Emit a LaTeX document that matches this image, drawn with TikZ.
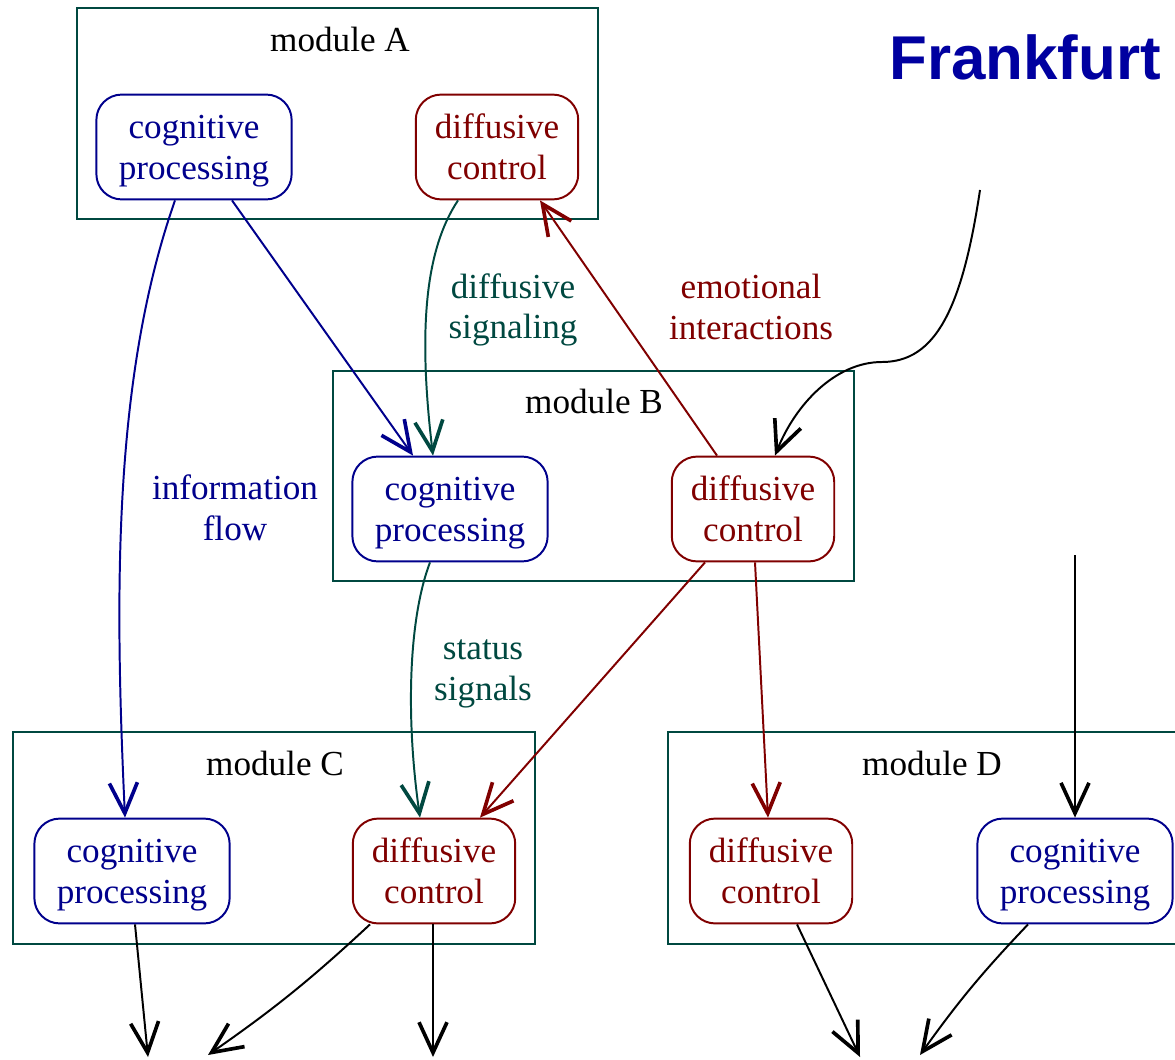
\documentclass[tikz,border=0pt]{standalone}
\usepackage{fontspec}
\setmainfont{Liberation Serif}
\newfontfamily\cityfont{Liberation Sans}
\usetikzlibrary{arrows.meta,calc}
\definecolor{cogblue}{RGB}{0,0,140}
\definecolor{diffred}{RGB}{128,0,0}
\definecolor{modteal}{RGB}{0,72,64}
\definecolor{cityblue}{RGB}{0,0,160}

\begin{document}
\begin{tikzpicture}[x=0.0125cm, y=-0.0125cm,
    font=\fontsize{12.5}{14.5}\selectfont,
    modbox/.style={draw=modteal, line width=0.8pt, inner sep=0pt},
    cogbox/.style={draw=cogblue, text=cogblue, rounded corners=9pt, line width=0.7pt,
                   align=center, inner sep=0pt, text depth=0pt,
                   minimum width=2.44cm, minimum height=1.31cm},
    diffbox/.style={cogbox, draw=diffred, text=diffred, minimum width=2.03cm},
    flow/.style={line width=0.7pt, -{Straight Barb[length=3.8mm,width=3.5mm,line width=1.3pt]}},
  ]
  \useasboundingbox (0,0) rectangle (1175,1059);

  % Module (aussen)
  \node[modbox, minimum width=6.51cm, minimum height=2.64cm] (modA) at (337.5,113.5) {};
  \node[modbox, minimum width=6.51cm, minimum height=2.62cm] (modB) at (593.5,476) {};
  \node[modbox, minimum width=6.52cm, minimum height=2.65cm] (modC) at (274,838) {};
  \node[modbox, minimum width=6.51cm, minimum height=2.65cm] (modD) at (928.5,838) {};
  \node (labA) at (340,39) {module A};
  \node (labB) at (594,401) {module B};
  \node (labC) at (275,763) {module C};
  \node (labD) at (932,763) {module D};

  % kognitive und diffusive Einheiten
  \node[cogbox]  (acog)  at (194,147)  {cognitive\\processing};
  \node[diffbox] (adiff) at (497,147)  {diffusive\\control};
  \node[cogbox]  (bcog)  at (450,509)  {cognitive\\processing};
  \node[diffbox] (bdiff) at (753,509)  {diffusive\\control};
  \node[cogbox]  (ccog)  at (132,871)  {cognitive\\processing};
  \node[diffbox] (cdiff) at (434,871)  {diffusive\\control};
  \node[diffbox] (ddiff) at (771,871)  {diffusive\\control};
  \node[cogbox]  (dcog)  at (1075,871) {cognitive\\processing};

  % Titel
  \node[font=\cityfont\bfseries\fontsize{22}{26}\selectfont, text=cityblue] (city) at (1025,57) {Frankfurt};

  % Beschriftungen der Pfeile
  \node[text=modteal, align=center] (lsig)  at (513,310) {diffusive\\signaling};
  \node[text=diffred, align=center] (lemo)  at (751,307) {emotional\\interactions};
  \node[text=cogblue, align=center] (linfo) at (235,508) {information\\flow};
  \node[text=modteal, align=center] (lstat) at (483,674) {status\\signals};

  % freie Enden
  \coordinate (inB) at (980,190);
  \coordinate (inD) at (1075,555);
  \coordinate (out1) at (148,1057);
  \coordinate (out2) at (208,1055);
  \coordinate (out3) at (433,1057);
  \coordinate (out4) at (860,1057);
  \coordinate (out5) at (920,1055);

  % Informationsfluss (blau)
  \draw[flow, cogblue] ($(acog.south)+(-19,0)$) .. controls (112,380) and (115,600) .. ($(ccog.north)+(-7,0)$);
  \draw[flow, cogblue] ($(acog.south)+(38,0)$) -- ($(bcog.north)+(-37,0)$);

  % diffusive Signale (petrol)
  \draw[flow, modteal] ($(adiff.south)+(-39,0)$) .. controls (425,250) and (418,330) .. ($(bcog.north)+(-17,0)$);
  \draw[flow, modteal] ($(bcog.south)+(-20,0)$) .. controls (408,620) and (406,720) .. ($(cdiff.north)+(-14,0)$);

  % emotionale Wechselwirkungen (dunkelrot)
  \draw[flow, diffred] ($(bdiff.north)+(-36,0)$) -- ($(adiff.south)+(43,0)$);
  \draw[flow, diffred] ($(bdiff.south)+(-48,0)$) -- ($(cdiff.north)+(46,0)$);
  \draw[flow, diffred] ($(bdiff.south)+(2,0)$) -- ($(ddiff.north)+(-3,0)$);

  % Eingaenge und Ausgaenge (schwarz)
  \draw[flow] (inB) .. controls (962,310) and (935,362) .. (882,362)
                    .. controls (835,362) and (795,405) .. ($(bdiff.north)+(22,0)$);
  \draw[flow] (inD) -- (dcog.north);
  \draw[flow] ($(ccog.south)+(3,0)$) -- (out1);
  \draw[flow] ($(cdiff.south)+(-64,0)$) to[bend left=4] (out2);
  \draw[flow] ($(cdiff.south)+(-1,0)$) -- (out3);
  \draw[flow] ($(ddiff.south)+(26,0)$) -- (out4);
  \draw[flow] ($(dcog.south)+(-47,0)$) to[bend right=4] (out5);
\end{tikzpicture}
\end{document}
